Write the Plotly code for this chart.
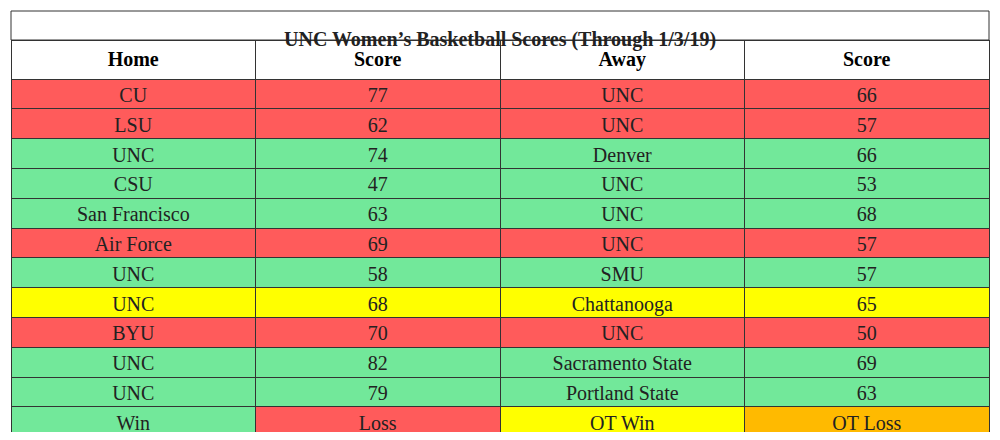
import plotly.graph_objects as go

RED = "#FF5B5B"
GREEN = "#72E89A"
YELLOW = "#FFFF00"
ORANGE = "#FFBA00"

title = "UNC Women’s Basketball Scores (Through 1/3/19)"
columns = ["Home", "Score", "Away", "Score"]
home = ["CU", "LSU", "UNC", "CSU", "San Francisco", "Air Force", "UNC", "UNC", "BYU", "UNC", "UNC"]
home_score = [77, 62, 74, 47, 63, 69, 58, 68, 70, 82, 79]
away = ["UNC", "UNC", "Denver", "UNC", "UNC", "UNC", "SMU", "Chattanooga", "UNC",
        "Sacramento State", "Portland State"]
away_score = [66, 57, 66, 53, 68, 57, 57, 65, 50, 69, 63]
result = ["L", "L", "W", "W", "W", "L", "W", "OTW", "L", "W", "W"]
legend = ["Win", "Loss", "OT Win", "OT Loss"]
legend_colors = [GREEN, RED, YELLOW, ORANGE]

color_of = {"W": GREEN, "L": RED, "OTW": YELLOW, "OTL": ORANGE}
row_colors = [color_of[r] for r in result]

values = [home + [legend[0]], home_score + [legend[1]],
          away + [legend[2]], away_score + [legend[3]]]
fills = [row_colors + [c] for c in legend_colors]

# page has an 8px body margin, so the figure sits at (8, 8)
W, H = 984, 424
x0, x1 = 3, 981
top, head_top, bottom = 3, 32, 420

fig = go.Figure(go.Table(
    domain=dict(x=[x0 / W, x1 / W], y=[0, 1 - head_top / H]),
    columnwidth=[1, 1, 1, 1],
    header=dict(values=["<b>%s</b>" % c for c in columns], height=29.8,
                fill_color="white", line=dict(color="#333", width=1),
                font=dict(family="Liberation Serif", size=20, color="black"), align="center"),
    cells=dict(values=values, height=29.8, fill_color=fills,
               line=dict(color="#333", width=1),
               font=dict(family="Liberation Serif", size=20, color="#222"), align="center"),
))

fig.add_shape(type="rect", xref="paper", yref="paper",
              x0=x0 / W, x1=x1 / W, y0=1 - head_top / H, y1=1 - top / H,
              line=dict(color="#333", width=1), fillcolor="white")
fig.add_annotation(x=0.5, y=1 - (top + head_top) / 2 / H, xref="paper", yref="paper",
                   text="<b>%s</b>" % title, showarrow=False,
                   font=dict(family="Liberation Serif", size=20, color="#222"))

fig.update_layout(width=W, height=H, margin=dict(l=0, r=0, t=0, b=0),
                  paper_bgcolor="white", plot_bgcolor="white")
fig.write_html("out.html")
